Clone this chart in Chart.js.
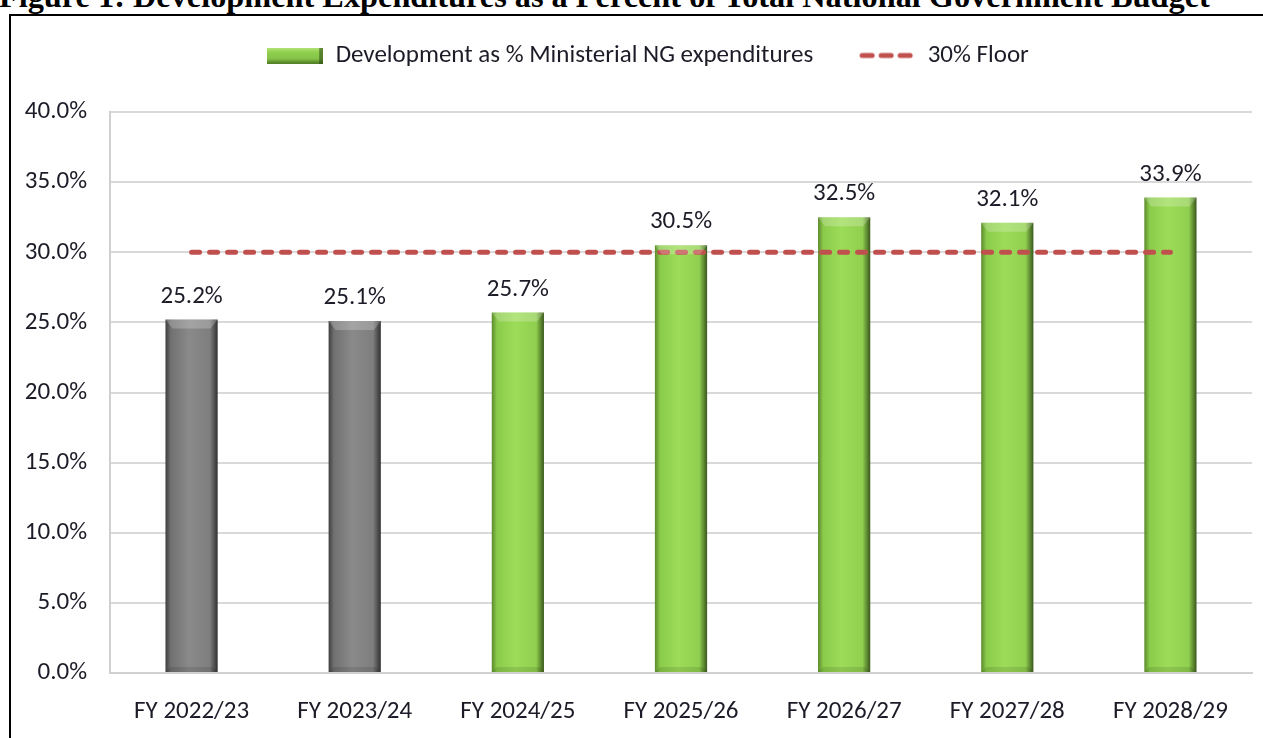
<!DOCTYPE html>
<html>
<head>
<meta charset="utf-8">
<script src="https://cdn.jsdelivr.net/npm/chart.js@4.4.1/dist/chart.umd.min.js"></script>
<style>
  html, body { margin:0; padding:0; background:#fff; overflow:hidden; }
  #wrap { position:relative; width:1263px; height:738px; }
  #title { position:absolute; left:-1px; white-space:nowrap; font-family:"Liberation Serif","Times New Roman",serif; font-weight:bold; line-height:1; color:#000; }
  #box { position:absolute; left:9px; top:14px; width:1400px; height:900px; border-left:2px solid #000; border-top:2px solid #000; }
  #c { position:absolute; left:0; top:0; }
</style>
</head>
<body>
<div id="wrap">
  <div id="title">Figure 1: Development Expenditures as a Percent of Total National Government Budget</div>
  <div id="box"></div>
  <canvas id="c" width="1263" height="738"></canvas>
</div>
<script>
// data
const years = ["FY 2022/23","FY 2023/24","FY 2024/25","FY 2025/26","FY 2026/27","FY 2027/28","FY 2028/29"];
const devShare = [25.2, 25.1, 25.7, 30.5, 32.5, 32.1, 33.9];
const actual = [true, true, false, false, false, false, false]; // grey = outturn
const floorLevel = [30, 30, 30, 30, 30, 30, 30];
const yTicks = [0, 5, 10, 15, 20, 25, 30, 35, 40];

const FONT = 'Carlito, Calibri, sans-serif';
const TXT = "#1c1c28";
const GREEN = ["#5c8a2c","#8acb4b","#9ddc58","#90cf4f","#3a581c"];
const GREY = ["#3e3e3e","#707070","#8a8a8a","#7e7e7e","#303030"];

// title: fit to width, baseline near y=8 (top half cut off)
(function(){
  const t = document.getElementById("title");
  const m = document.createElement("canvas").getContext("2d");
  m.font = 'bold 100px "Liberation Serif"';
  const f = 100 * 1212 / m.measureText(t.textContent).width;
  t.style.fontSize = f + "px";
  t.style.top = (9 - 0.891*f) + "px";
})();

// bevel-ish horizontal gradient per bar
function barFill(c){
  const base = actual[c.dataIndex] ? GREY : GREEN;
  const xs = c.chart.scales && c.chart.scales.x;
  if (!xs || c.type !== "data" || !xs.width) return base[2];
  const cx = xs.getPixelForValue(c.dataIndex);
  const w = xs.width / years.length * 0.32;
  const g = c.chart.ctx.createLinearGradient(cx - w/2, 0, cx + w/2, 0);
  g.addColorStop(0, base[0]); g.addColorStop(0.1, base[1]); g.addColorStop(0.45, base[2]);
  g.addColorStop(0.85, base[3]); g.addColorStop(1, base[4]);
  return g;
}

// legend swatches
function swatchBar(){
  const cv = document.createElement("canvas"); cv.width = 56; cv.height = 16;
  const x = cv.getContext("2d");
  const g = x.createLinearGradient(0,0,0,16);
  g.addColorStop(0,"#b5e67c"); g.addColorStop(0.3,"#8fcf4e"); g.addColorStop(0.7,"#86c449"); g.addColorStop(1,"#4f7a25");
  x.fillStyle = g; x.fillRect(0,0,56,16);
  x.fillStyle = "rgba(40,70,15,0.55)"; x.fillRect(52,0,4,16);
  return cv;
}
function swatchLine(){
  const cv = document.createElement("canvas"); cv.width = 56; cv.height = 8;
  const x = cv.getContext("2d");
  x.strokeStyle = "#c0504d"; x.lineWidth = 5; x.lineCap = "round"; x.setLineDash([10,9]);
  x.beginPath(); x.moveTo(3,4); x.lineTo(56,4); x.stroke();
  return cv;
}

// top bevel highlight + value labels
const barDecor = {
  id: "barDecor",
  afterDatasetsDraw(chart){
    const ctx = chart.ctx;
    const meta = chart.getDatasetMeta(0);
    ctx.save();
    meta.data.forEach((el, i) => {
      const l = el.x - el.width/2, r = el.x + el.width/2, t = el.y;
      ctx.fillStyle = "rgba(255,255,255,0.22)";
      ctx.beginPath(); ctx.moveTo(l, t); ctx.lineTo(r, t); ctx.lineTo(r-7, t+9); ctx.lineTo(l+7, t+9); ctx.closePath(); ctx.fill();
      const b = el.base;
      ctx.fillStyle = "rgba(0,0,0,0.1)";
      ctx.beginPath(); ctx.moveTo(l+5, b-5); ctx.lineTo(r-5, b-5); ctx.lineTo(r, b); ctx.lineTo(l, b); ctx.closePath(); ctx.fill();
    });
    ctx.font = '25px ' + FONT;
    ctx.fillStyle = TXT;
    ctx.textAlign = "center";
    ctx.textBaseline = "alphabetic";
    meta.data.forEach((el, i) => {
      ctx.fillText(devShare[i].toFixed(1) + "%", el.x, el.y - 17);
    });
    ctx.restore();
  }
};

// legend sits higher and a bit right of centre
const legendPlace = {
  id: "legendPlace",
  afterInit(chart){
    const lg = chart.legend;
    const fit = lg.fit, draw = lg.draw;
    lg.fit = function(){ fit.call(this); this.height = 112; };
    lg.draw = function(){
      const ctx = this.ctx; ctx.save(); ctx.translate(22, -3); draw.call(this); ctx.restore();
    };
  }
};

const barSwatch = swatchBar(), lineSwatch = swatchLine();

new Chart(document.getElementById("c"), {
  data: {
    labels: years,
    datasets: [
      { type:"bar", label:"Development as % Ministerial NG expenditures", data:devShare,
        backgroundColor:barFill, borderWidth:0, categoryPercentage:1, barPercentage:0.32, order:1 },
      { type:"line", label:"30% Floor", data:floorLevel, borderColor:"#c0504d", backgroundColor:"#c0504d",
        borderWidth:5, borderDash:[8,10], borderCapStyle:"round", pointRadius:0, fill:false, order:0 }
    ]
  },
  options: {
    responsive:false,
    animation:false,
    layout:{ padding:{ left:0, right:11, top:0, bottom:0 } },
    plugins:{
      tooltip:{ enabled:false },
      legend:{
        position:"top",
        labels:{
          usePointStyle:true, pointStyleWidth:56, boxHeight:16, padding:46,
          font:{ family:FONT, size:25 }, color:TXT,
          sort:(a,b)=>a.datasetIndex-b.datasetIndex,
          generateLabels(chart){
            const items = Chart.defaults.plugins.legend.labels.generateLabels(chart);
            items.forEach(it => { it.pointStyle = it.datasetIndex === 0 ? barSwatch : lineSwatch; });
            return items;
          }
        }
      }
    },
    scales:{
      x:{
        afterFit: s => { s.height = 65; },
        grid:{ display:false, drawTicks:false },
        border:{ display:true, color:"#d0d0d0", width:2 },
        ticks:{ padding:24, font:{ family:FONT, size:25 }, color:TXT }
      },
      y:{
        min:0, max:40,
        afterBuildTicks: s => { s.ticks = yTicks.map(v => ({ value:v })); },
        afterFit: s => { s.width = 110; },
        grid:{ color:"#d9d9d9", lineWidth:2, drawTicks:false },
        border:{ display:true, color:"#d0d0d0", width:2 },
        ticks:{ padding:23, font:{ family:FONT, size:25 }, color:TXT, callback:v => v.toFixed(1) + "%" }
      }
    }
  },
  plugins:[barDecor, legendPlace]
});
</script>
</body>
</html>
